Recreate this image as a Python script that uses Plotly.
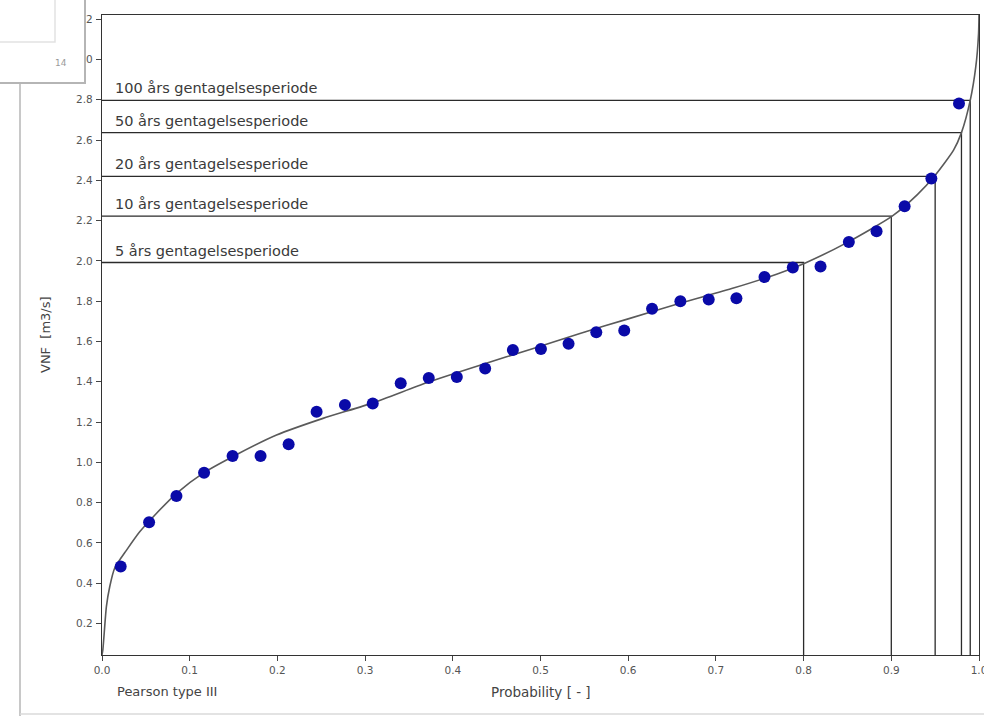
import plotly.graph_objects as go

# ---- data ----
obs_p = [0.0213, 0.0537, 0.0849, 0.1164, 0.1489, 0.1808, 0.2128, 0.2447, 0.2770, 0.3087,
         0.3406, 0.3726, 0.4046, 0.4369, 0.4685, 0.5005, 0.5320, 0.5636, 0.5955, 0.6272,
         0.6595, 0.6918, 0.7234, 0.7554, 0.7877, 0.8193, 0.8516, 0.8832, 0.9152, 0.9457, 0.9772]
obs_v = [0.482, 0.702, 0.832, 0.948, 1.031, 1.031, 1.090, 1.251, 1.285, 1.292,
         1.392, 1.418, 1.424, 1.466, 1.558, 1.563, 1.588, 1.646, 1.654, 1.762,
         1.800, 1.808, 1.815, 1.920, 1.967, 1.972, 2.094, 2.147, 2.271, 2.409, 2.781]

curve_p = [0.0, 0.001, 0.005, 0.0088, 0.0145, 0.028, 0.043, 0.062, 0.085, 0.115, 0.150,
           0.199, 0.252, 0.309, 0.370, 0.431, 0.490, 0.545, 0.600, 0.659, 0.720, 0.770,
           0.802, 0.850, 0.901, 0.930, 0.950, 0.971, 0.980, 0.990, 0.9963, 0.9995, 1.0]
curve_v = [0.043, 0.070, 0.283, 0.382, 0.475, 0.564, 0.655, 0.746, 0.846, 0.945, 1.030,
           1.135, 1.218, 1.295, 1.395, 1.482, 1.563, 1.640, 1.712, 1.790, 1.865, 1.935,
           1.990, 2.092, 2.222, 2.330, 2.425, 2.550, 2.637, 2.797, 2.963, 3.128, 3.221]

period_labels = ["100 års gentagelsesperiode", "50 års gentagelsesperiode",
                 "20 års gentagelsesperiode", "10 års gentagelsesperiode",
                 "5 års gentagelsesperiode"]
period_p = [0.99, 0.98, 0.95, 0.90, 0.80]
period_v = [2.797, 2.637, 2.420, 2.222, 1.992]

x_ticks = [0.0, 0.1, 0.2, 0.3, 0.4, 0.5, 0.6, 0.7, 0.8, 0.9, 1.0]
y_ticks = [0.2, 0.4, 0.6, 0.8, 1.0, 1.2, 1.4, 1.6, 1.8, 2.0, 2.2, 2.4, 2.6, 2.8, 3.0, 3.2]

Y_MIN, Y_MAX = 0.043, 3.221
FONT = "DejaVu Sans"

# the page body margin is removed below, so the figure fills the whole window
W, H = 984, 716
# plot area in page pixels: x 102..979, y 15..655
PL, PR, PT, PB = 102, 979, 15, 655
ML, MR, MT, MB = PL, W - PR, PT, H - PB
PW, PH = PR - PL, PB - PT


def px(x):
    """page x pixel -> paper x"""
    return (x - PL) / PW


def py(y):
    """page y pixel -> paper y"""
    return (PB - y) / PH


fig = go.Figure()

# return-period guide lines (horizontal to the curve, then down to the axis)
gx, gy = [], []
for p, v in zip(period_p, period_v):
    gx += [0.0, p, p, None]
    gy += [v, v, Y_MIN, None]
fig.add_trace(go.Scatter(x=gx, y=gy, mode="lines",
                         line=dict(color="#2b2b2b", width=1.3),
                         hoverinfo="skip", showlegend=False))

# fitted Pearson III curve
fig.add_trace(go.Scatter(x=curve_p, y=curve_v, mode="lines",
                         line=dict(color="#5a5a5a", width=1.6, shape="spline", smoothing=0.6),
                         hoverinfo="skip", showlegend=False))

# observations
fig.add_trace(go.Scatter(x=obs_p, y=obs_v, mode="markers",
                         marker=dict(color="#0a0aa8", size=12, line=dict(width=0)),
                         showlegend=False))

annotations = []
for lab, v in zip(period_labels, period_v):
    annotations.append(dict(x=0.012, y=v, xref="x", yref="y", text=lab, showarrow=False,
                            xanchor="left", yanchor="bottom", yshift=2,
                            font=dict(family=FONT, size=14.5, color="#3a3a3a")))

annotations += [
    dict(x=0.5, y=py(692), xref="paper", yref="paper", text="Probability [ - ]",
         showarrow=False, xanchor="center", yanchor="middle",
         font=dict(family=FONT, size=13.5, color="#444444")),
    dict(x=px(115), y=py(691), xref="paper", yref="paper", text="Pearson type III",
         showarrow=False, xanchor="left", yanchor="middle",
         font=dict(family=FONT, size=13, color="#444444")),
    dict(x=px(45), y=py(335), xref="paper", yref="paper", text="VNF  [m3/s]",
         showarrow=False, xanchor="center", yanchor="middle", textangle=-90,
         font=dict(family=FONT, size=13, color="#444444")),
    dict(x=px(61), y=py(63), xref="paper", yref="paper", text="14",
         showarrow=False, xanchor="center", yanchor="middle",
         font=dict(family=FONT, size=9, color="#9a9a9a")),
]

shapes = [
    # surrounding window frame lines
    dict(type="line", xref="paper", yref="paper", x0=px(20), x1=px(20), y0=py(83), y1=py(716),
         line=dict(color="#c8c8c8", width=2), layer="above"),
    dict(type="line", xref="paper", yref="paper", x0=px(20), x1=px(984), y0=py(714), y1=py(714),
         line=dict(color="#dadada", width=1.5), layer="above"),
    # pop-up box in the upper left corner
    dict(type="rect", xref="paper", yref="paper", x0=px(-4), x1=px(85), y0=py(-4), y1=py(83),
         fillcolor="white", line=dict(color="#b5b5b5", width=2), layer="above"),
    dict(type="rect", xref="paper", yref="paper", x0=px(-4), x1=px(55), y0=py(-4), y1=py(42),
         fillcolor="white", line=dict(color="#e2e2e2", width=1.5), layer="above"),
]

axis_common = dict(showline=True, mirror=True, linecolor="#333333", linewidth=1.3,
                   ticks="outside", ticklen=5, tickwidth=1, tickcolor="#444444",
                   showgrid=False, zeroline=False, ticklabeloverflow="allow",
                   tickfont=dict(family=FONT, size=10.5, color="#555555"))

fig.update_layout(
    width=W, height=H,
    margin=dict(l=ML, r=MR, t=MT, b=MB, autoexpand=False),
    paper_bgcolor="white", plot_bgcolor="white",
    xaxis=dict(range=[0, 1], tickvals=x_ticks, ticktext=[f"{t:.1f}" for t in x_ticks],
               **axis_common),
    yaxis=dict(range=[Y_MIN, Y_MAX], tickvals=y_ticks, ticktext=[f"{t:.1f}" for t in y_ticks],
               ticklabelstandoff=1, **axis_common),
    annotations=annotations,
    shapes=shapes,
    showlegend=False,
)

fig.write_html(
    "out.html",
    config={"displayModeBar": False},
    post_script="document.documentElement.style.overflow='hidden';"
                "document.body.style.margin='0';document.body.style.overflow='hidden';",
)
